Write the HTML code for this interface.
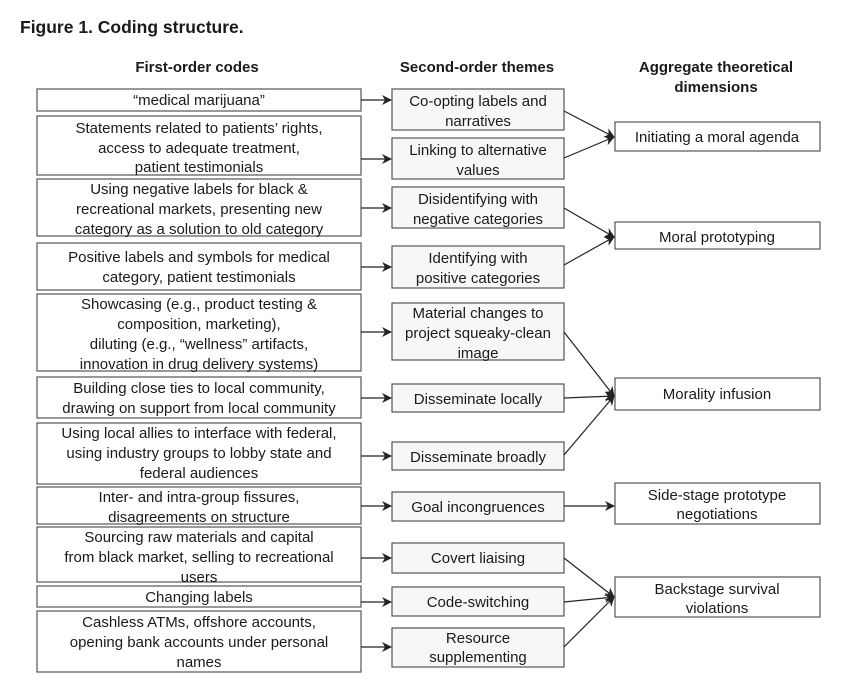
<!DOCTYPE html>
<html><head><meta charset="utf-8"><style>
html,body{margin:0;padding:0;background:#fff;}
svg{display:block;}
text{font-family:"Liberation Sans",sans-serif;font-size:15px;fill:#1a1a1a;}
.b{font-weight:bold;}
.l{fill:#fff;stroke:#555;stroke-width:1.2;}
.m{fill:#f7f7f7;stroke:#555;stroke-width:1.2;}
.a{stroke:#222;stroke-width:1.2;fill:none;marker-end:url(#ah);}
</style></head><body>
<svg width="865" height="687" viewBox="0 0 865 687">
<defs><marker id="ah" markerWidth="10" markerHeight="10" refX="9" refY="5" orient="auto" markerUnits="userSpaceOnUse"><path d="M0,0 L10,5 L0,10 L3,5 Z" fill="#222"/></marker></defs>
<text x="20" y="33" class="b" style="font-size:17.5px">Figure 1.  Coding structure.</text>
<g text-anchor="middle" class="b">
<text x="197" y="72" class="b">First-order codes</text>
<text x="477" y="72" class="b">Second-order themes</text>
<text x="716" y="72" class="b">Aggregate theoretical</text>
<text x="716" y="92" class="b">dimensions</text>
</g>
<g>
<rect class="l" x="37" y="89" width="324" height="22"/>
<rect class="l" x="37" y="116" width="324" height="59"/>
<rect class="l" x="37" y="179" width="324" height="57"/>
<rect class="l" x="37" y="243" width="324" height="47"/>
<rect class="l" x="37" y="294" width="324" height="77"/>
<rect class="l" x="37" y="377" width="324" height="41"/>
<rect class="l" x="37" y="423" width="324" height="61"/>
<rect class="l" x="37" y="487" width="324" height="37"/>
<rect class="l" x="37" y="527" width="324" height="55"/>
<rect class="l" x="37" y="586" width="324" height="21"/>
<rect class="l" x="37" y="611" width="324" height="61"/>
</g>
<g text-anchor="middle">
<text x="199" y="105">“medical marijuana”</text>
<text x="199" y="133">Statements related to patients’ rights,</text>
<text x="199" y="153">access to adequate treatment,</text>
<text x="199" y="172">patient testimonials</text>
<text x="199" y="194">Using negative labels for black &amp;</text>
<text x="199" y="214">recreational markets, presenting new</text>
<text x="199" y="234">category as a solution to old category</text>
<text x="199" y="262">Positive labels and symbols for medical</text>
<text x="199" y="282">category, patient testimonials</text>
<text x="199" y="309">Showcasing (e.g., product testing &amp;</text>
<text x="199" y="329">composition, marketing),</text>
<text x="199" y="349">diluting (e.g., “wellness” artifacts,</text>
<text x="199" y="369">innovation in drug delivery systems)</text>
<text x="199" y="393">Building close ties to local community,</text>
<text x="199" y="413">drawing on support from local community</text>
<text x="199" y="438">Using local allies to interface with federal,</text>
<text x="199" y="458">using industry groups to lobby state and</text>
<text x="199" y="478">federal audiences</text>
<text x="199" y="502">Inter- and intra-group fissures,</text>
<text x="199" y="522">disagreements on structure</text>
<text x="199" y="542">Sourcing raw materials and capital</text>
<text x="199" y="562">from black market, selling to recreational</text>
<text x="199" y="582">users</text>
<text x="199" y="602">Changing labels</text>
<text x="199" y="627">Cashless ATMs, offshore accounts,</text>
<text x="199" y="647">opening bank accounts under personal</text>
<text x="199" y="667">names</text>
</g>
<g>
<rect class="m" x="392" y="89" width="172" height="41"/>
<rect class="m" x="392" y="138" width="172" height="41"/>
<rect class="m" x="392" y="187" width="172" height="41"/>
<rect class="m" x="392" y="246" width="172" height="42"/>
<rect class="m" x="392" y="303" width="172" height="57"/>
<rect class="m" x="392" y="384" width="172" height="28"/>
<rect class="m" x="392" y="442" width="172" height="28"/>
<rect class="m" x="392" y="492" width="172" height="29"/>
<rect class="m" x="392" y="543" width="172" height="30"/>
<rect class="m" x="392" y="587" width="172" height="29"/>
<rect class="m" x="392" y="628" width="172" height="39"/>
</g>
<g text-anchor="middle">
<text x="478" y="106">Co-opting labels and</text>
<text x="478" y="126">narratives</text>
<text x="478" y="155">Linking to alternative</text>
<text x="478" y="175">values</text>
<text x="478" y="204">Disidentifying with</text>
<text x="478" y="224">negative categories</text>
<text x="478" y="263">Identifying with</text>
<text x="478" y="283">positive categories</text>
<text x="478" y="318">Material changes to</text>
<text x="478" y="338">project squeaky-clean</text>
<text x="478" y="358">image</text>
<text x="478" y="404">Disseminate locally</text>
<text x="478" y="462">Disseminate broadly</text>
<text x="478" y="512">Goal incongruences</text>
<text x="478" y="563">Covert liaising</text>
<text x="478" y="607">Code-switching</text>
<text x="478" y="643">Resource</text>
<text x="478" y="662">supplementing</text>
</g>
<g>
<rect class="l" x="615" y="122" width="205" height="29"/>
<rect class="l" x="615" y="222" width="205" height="27"/>
<rect class="l" x="615" y="378" width="205" height="32"/>
<rect class="l" x="615" y="483" width="205" height="41"/>
<rect class="l" x="615" y="577" width="205" height="40"/>
</g>
<g text-anchor="middle">
<text x="717" y="142">Initiating a moral agenda</text>
<text x="717" y="242">Moral prototyping</text>
<text x="717" y="399">Morality infusion</text>
<text x="717" y="500">Side-stage prototype</text>
<text x="717" y="519">negotiations</text>
<text x="717" y="594">Backstage survival</text>
<text x="717" y="613">violations</text>
</g>
<line class="a" x1="361" y1="100" x2="391" y2="100"/>
<line class="a" x1="361" y1="159" x2="391" y2="159"/>
<line class="a" x1="361" y1="208" x2="391" y2="208"/>
<line class="a" x1="361" y1="267" x2="391" y2="267"/>
<line class="a" x1="361" y1="332" x2="391" y2="332"/>
<line class="a" x1="361" y1="398" x2="391" y2="398"/>
<line class="a" x1="361" y1="456" x2="391" y2="456"/>
<line class="a" x1="361" y1="506" x2="391" y2="506"/>
<line class="a" x1="361" y1="558" x2="391" y2="558"/>
<line class="a" x1="361" y1="602" x2="391" y2="602"/>
<line class="a" x1="361" y1="647" x2="391" y2="647"/>
<line class="a" x1="564" y1="111" x2="614" y2="137"/>
<line class="a" x1="564" y1="158" x2="614" y2="137"/>
<line class="a" x1="564" y1="208" x2="614" y2="237"/>
<line class="a" x1="564" y1="265" x2="614" y2="237"/>
<line class="a" x1="564" y1="332" x2="614" y2="396"/>
<line class="a" x1="564" y1="398" x2="614" y2="396"/>
<line class="a" x1="564" y1="455" x2="614" y2="396"/>
<line class="a" x1="564" y1="506" x2="614" y2="506"/>
<line class="a" x1="564" y1="558" x2="614" y2="597"/>
<line class="a" x1="564" y1="602" x2="614" y2="597"/>
<line class="a" x1="564" y1="647" x2="614" y2="597"/>
</svg>
</body></html>
